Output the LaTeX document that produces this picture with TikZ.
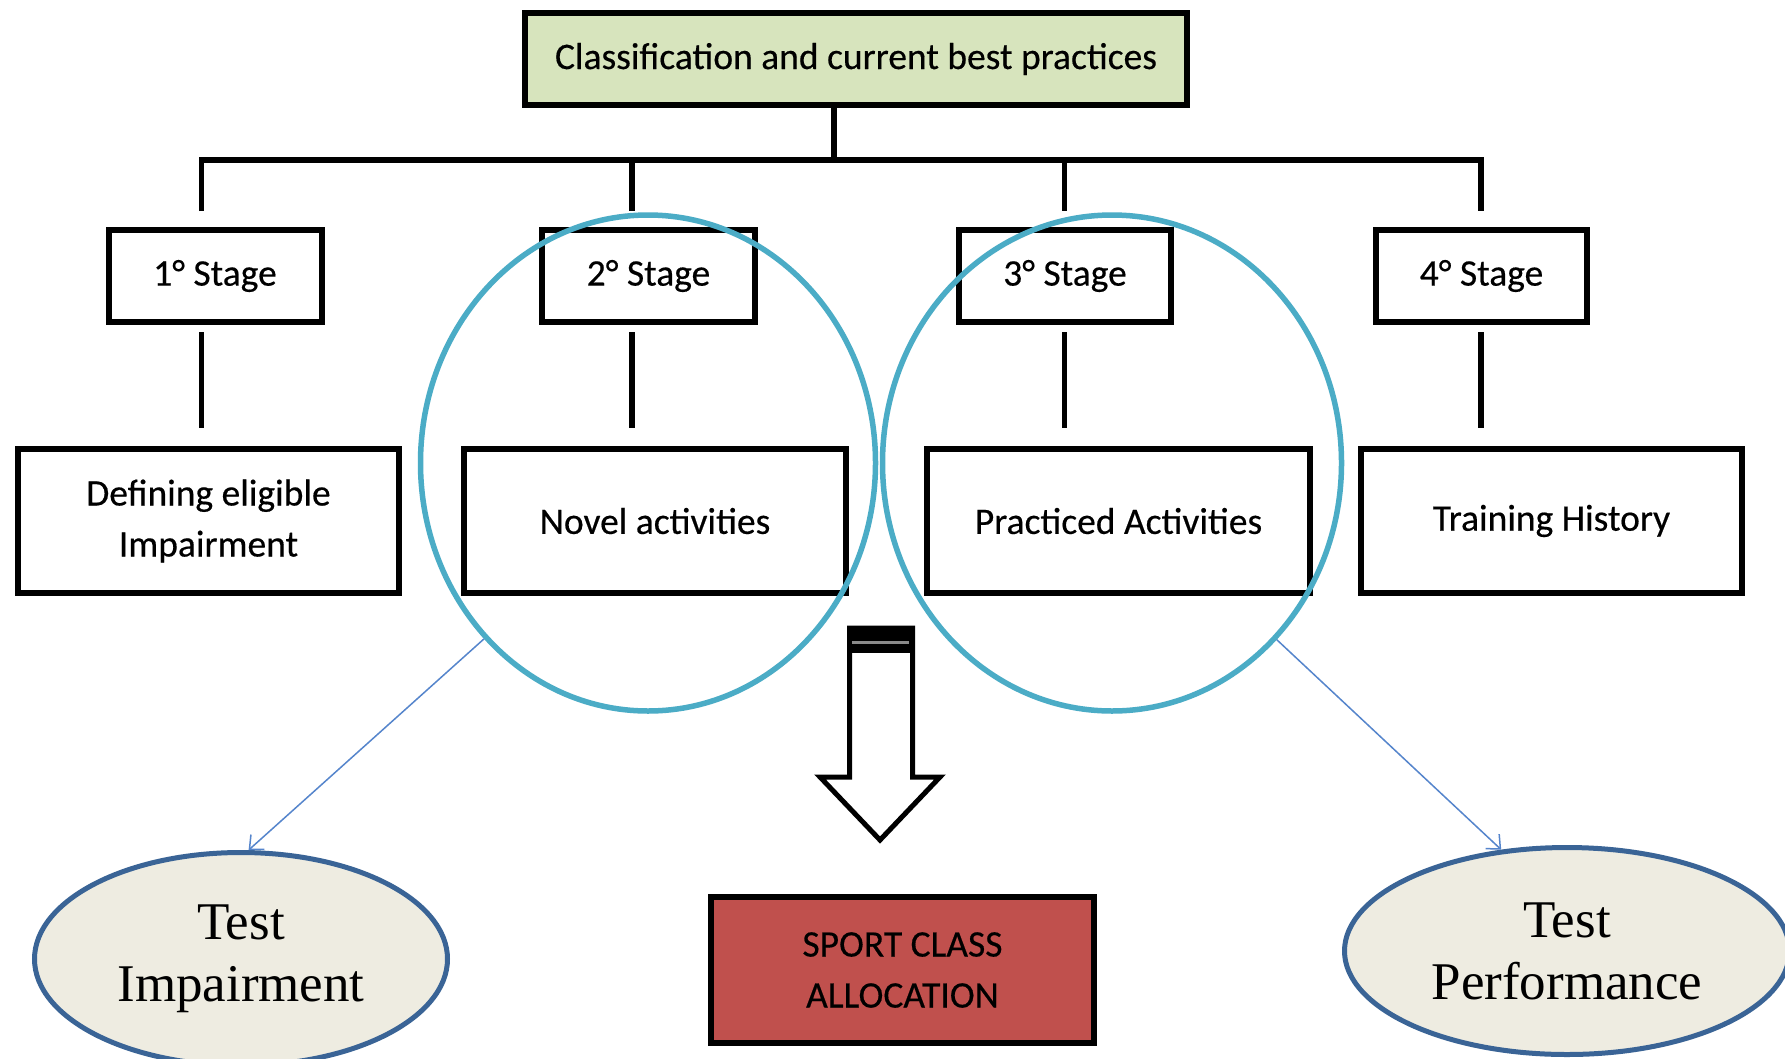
\documentclass[tikz,border=0pt]{standalone}
\usepackage{fontspec}
\setmainfont[FakeBold=0.4]{Carlito}
\newfontfamily\testfont{Liberation Serif}
\usetikzlibrary{shapes.geometric,arrows.meta}

\definecolor{headgreen}{HTML}{D7E4BD}
\definecolor{ringblue}{HTML}{4BACC6}
\definecolor{testfill}{HTML}{EEECE1}
\definecolor{testline}{HTML}{3A6496}
\definecolor{pointblue}{HTML}{5585CC}
\definecolor{classred}{HTML}{C0504D}
\definecolor{bandgray}{HTML}{8A8A8A}

\begin{document}
\begin{tikzpicture}[x=1pt,y=-1pt,
  labelbox/.style={draw=black,line width=6pt,rectangle,inner sep=0pt,
    align=center,font=\fontsize{37.5}{51}\selectfont},
  link/.style={line width=5.5pt},
  ring/.style={draw=ringblue,line width=5.5pt,ellipse,inner sep=0pt},
  testnode/.style={draw=testline,line width=5pt,fill=testfill,ellipse,
    inner sep=0pt,align=center,font=\testfont\fontsize{53}{62}\selectfont},
  pointer/.style={draw=pointblue,line width=1.5pt,
    -{Straight Barb[length=11pt,width=20pt,line width=1.5pt]}}
]
\path[use as bounding box] (0,0) rectangle (1785,1058);
\clip (0,0) rectangle (1785,1058);
\fill[white] (0,0) rectangle (1785,1058);

% heading
\node[labelbox,fill=headgreen,minimum width=662,minimum height=92] (top) at (856,59)
  {Classification and current best practices};

% stage boxes
\node[labelbox,minimum width=213,minimum height=92] (s1) at (215,276) {1° Stage};
\node[labelbox,minimum width=213,minimum height=92] (s2) at (648.5,276) {2° Stage};
\node[labelbox,minimum width=212,minimum height=92] (s3) at (1065,276) {3° Stage};
\node[labelbox,minimum width=211,minimum height=92] (s4) at (1481.5,276) {4° Stage};

% description boxes
\node[labelbox,minimum width=381,minimum height=144] (d1) at (208.5,521)
  {Defining eligible\\Impairment};
\node[labelbox,minimum width=382,minimum height=144] (d2) at (655,521) {Novel activities};
\node[labelbox,minimum width=383,minimum height=144] (d3) at (1118.5,521) {Practiced Activities};
\node[labelbox,minimum width=381,minimum height=144] (d4) at (1551.5,521) {Training History};

% tree connectors
\coordinate (b1) at (201.5,160);
\coordinate (b2) at (632,160);
\coordinate (b3) at (1064.5,160);
\coordinate (b4) at (1481,160);
\draw[link] (top.south -| 834,0) -- (b2 -| 834,0);
\draw[link,line join=miter] (s1.north -| b1) ++(0,-16) -- (b1) -- (b4) -- ([yshift=16pt]s4.north -| b4);
\draw[link] (b2) -- ([yshift=16pt]s2.north -| b2);
\draw[link] (b3) -- ([yshift=16pt]s3.north -| b3);
\foreach \s/\d/\b in {s1/d1/b1,s2/d2/b2,s3/d3/b3,s4/d4/b4}
  \draw[link] ([yshift=-7pt]\s.south -| \b) -- ([yshift=18pt]\d.north -| \b);

% grouping rings
\node[ring,minimum width=455,minimum height=496] (c2) at (648,463) {};
\node[ring,minimum width=459,minimum height=496] (c3) at (1112,463) {};

% test ellipses
\node[testnode,minimum width=413,minimum height=213] (tl) at (241,959) {Test\\Impairment};
\node[testnode,minimum width=445,minimum height=207] (tr) at (1567,951) {Test\\Performance};

\draw[pointer] (c2.227) -- (tl.86);
\draw[pointer] (c3.313) -- (tr.123);

% allocation box
\node[labelbox,fill=classred,minimum width=383,minimum height=146] (alloc) at (902.5,970)
  {SPORT CLASS\\ALLOCATION};

% striped block arrow
\draw[line width=5pt,line join=miter,fill=white]
  (849.5,628) -- (912.5,628) -- (912.5,777) -- (940,777) -- (880,840)
  -- (820,777) -- (849.5,777) -- cycle;
\fill[black] (847,626) rectangle (915,653);
\fill[bandgray] (852,640.5) rectangle (909,643.5);
\end{tikzpicture}
\end{document}
